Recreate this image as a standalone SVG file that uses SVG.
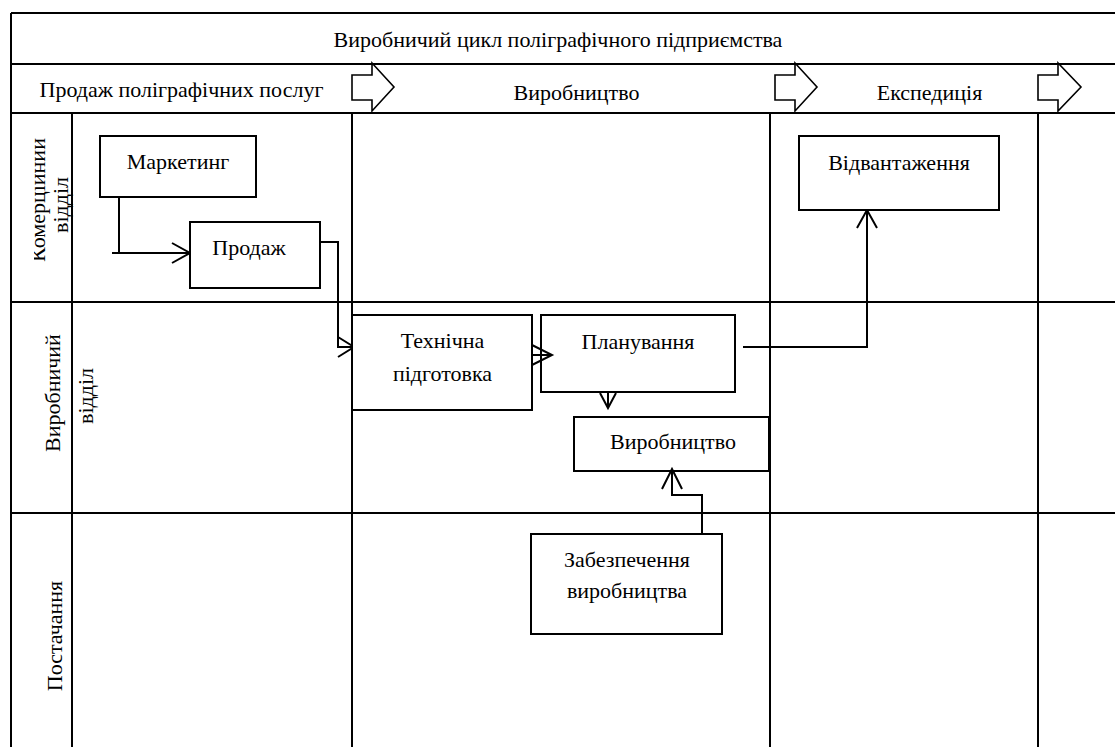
<svg xmlns="http://www.w3.org/2000/svg" width="1115" height="747" viewBox="0 0 1115 747">
  <style>
    .frame { stroke: #000; stroke-width: 2; fill: none; }
    .box { stroke: #000; stroke-width: 2; fill: #fff; }
    .conn { stroke: #000; stroke-width: 2; fill: none; }
    .hdr { stroke: #000; stroke-width: 1.6; fill: #fff; }
    text { font-family: "Liberation Serif", "Times New Roman", serif; font-size: 22px; fill: #000; }
    .c { text-anchor: middle; }
  </style>
  <defs>
    <clipPath id="clip-lane1">
      <rect x="34" y="114" width="37" height="187"/>
    </clipPath>
  </defs>
  <rect x="0" y="0" width="1115" height="747" fill="#fff"/>
  <g id="frame">
    <path class="frame" d="M11,13 H1115 M11,64 H1115 M11,113 H1115 M11,302 H1115 M11,513 H1115 M11,13 V747 M72,113 V747 M352,113 V747 M770,113 V747 M1038,113 V747"/>
    <text class="c" x="558" y="47">Виробничий цикл поліграфічного підприємства</text>
  </g>
  <g id="phases">
    <text class="c" x="181.5" y="97">Продаж поліграфічних послуг</text>
    <text class="c" x="576.5" y="100">Виробництво</text>
    <text class="c" x="929.5" y="100">Експедиція</text>
    <polygon class="hdr" points="352,75 372,75 372,63 394,87 372,111 372,100 352,100"/>
    <polygon class="hdr" points="775,75 795,75 795,63 817,87 795,111 795,100 775,100"/>
    <polygon class="hdr" points="1038,75 1058,75 1058,63 1081,87 1058,111 1058,100 1038,100"/>
  </g>
  <g id="lanes">
    <g clip-path="url(#clip-lane1)">
      <text class="c" transform="translate(45,200) rotate(-90)">Комерційний</text>
    </g>
    <text class="c" transform="translate(68,205) rotate(-90)">відділ</text>
    <text class="c" transform="translate(60,393) rotate(-90)">Виробничий</text>
    <text class="c" transform="translate(93,396) rotate(-90)">відділ</text>
    <text class="c" transform="translate(62,636) rotate(-90)">Постачання</text>
  </g>
  <g id="connectors">
    <path class="conn" d="M119,197 V253 M112,253 H189 M172,243 L190,253 L172,263"/>
    <path class="conn" d="M320,242 H338 V347 H353 M338,337 L354,347 L338,357"/>
    <path class="conn" d="M532,355 H551 M532,345 L552,355 L532,365"/>
    <path class="conn" d="M608,392 V407 M600,393 L608,408 L616,393"/>
    <path class="conn" d="M743,347 H867 V211 M857,228 L867,210 L877,228"/>
    <path class="conn" d="M702,534 V495 H672 V470 M662,489 L672,469 L682,489"/>
  </g>
  <g id="node-marketing">
    <rect class="box" x="100" y="136" width="156" height="61"/>
    <text class="c" x="178" y="169">Маркетинг</text>
  </g>
  <g id="node-sale">
    <rect class="box" x="190" y="222" width="130" height="66"/>
    <text class="c" x="249" y="255">Продаж</text>
  </g>
  <g id="node-tech">
    <rect class="box" x="352" y="315" width="180" height="95"/>
    <text class="c" x="442.5" y="348">Технічна</text>
    <text class="c" x="442.5" y="381">підготовка</text>
  </g>
  <g id="node-plan">
    <rect class="box" x="541" y="315" width="194" height="77" fill-opacity="0"/>
    <text class="c" x="638" y="349">Планування</text>
  </g>
  <g id="node-production">
    <rect class="box" x="574" y="417" width="195" height="54" fill-opacity="0"/>
    <text class="c" x="673" y="449">Виробництво</text>
  </g>
  <g id="node-shipping">
    <rect class="box" x="799" y="136" width="200" height="74"/>
    <text class="c" x="899" y="170">Відвантаження</text>
  </g>
  <g id="node-supply">
    <rect class="box" x="531" y="534" width="191" height="100"/>
    <text class="c" x="627" y="567">Забезпечення</text>
    <text class="c" x="627" y="598">виробництва</text>
  </g>
</svg>
